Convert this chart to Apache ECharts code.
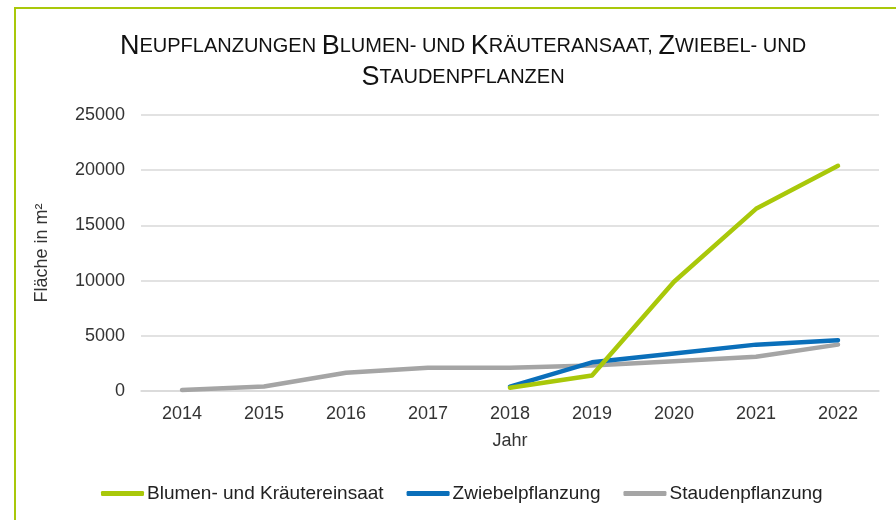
<!DOCTYPE html>
<html>
<head>
<meta charset="utf-8">
<script src="https://cdn.jsdelivr.net/npm/echarts@6/dist/echarts.min.js"></script>
<style>
  html, body { margin: 0; padding: 0; background: #fff; }
  #chart { width: 896px; height: 520px; }
</style>
</head>
<body>
<div id="chart"></div>
<script>
const years = ["2014", "2015", "2016", "2017", "2018", "2019", "2020", "2021", "2022"];
const blumen = [null, null, null, null, 300, 1400, 9900, 16500, 20400];
const zwiebel = [null, null, null, null, 400, 2600, 3400, 4200, 4600];
const stauden = [100, 400, 1650, 2100, 2100, 2300, 2700, 3100, 4200];

const chart = echarts.init(document.getElementById("chart"));

// Titel in Kapitälchen: große Anfangsbuchstaben, Rest kleiner
const titleText =
  "{b|N}{s|EUPFLANZUNGEN }{b|B}{s|LUMEN- UND }{b|K}{s|RÄUTERANSAAT, }{b|Z}{s|WIEBEL- UND}\n" +
  "{b|S}{s|TAUDENPFLANZEN}";

const mkSeries = (name, data, color) => ({
  name,
  type: "line",
  data,
  symbol: "none",
  connectNulls: false,
  lineStyle: { color, width: 4.5, cap: "round", join: "round" },
  itemStyle: { color },
});

chart.setOption({
  animation: false,
  textStyle: { fontFamily: "Liberation Sans, Arial, sans-serif" },
  graphic: [
    {
      type: "rect",
      shape: { x: 15, y: 8, width: 1000, height: 1000 },
      style: { fill: "none", stroke: "#a9c80a", lineWidth: 2 },
      silent: true,
    },
  ],
  title: {
    text: titleText,
    left: 458,
    textAlign: "center",
    top: 26,
    textStyle: {
      fontWeight: "normal",
      rich: {
        b: { fontSize: 27, color: "#111", lineHeight: 31, fontWeight: "normal", fontFamily: "Liberation Sans" },
        s: { fontSize: 20, color: "#111", lineHeight: 31, fontWeight: "normal", fontFamily: "Liberation Sans" },
      },
    },
  },
  grid: { left: 141, right: 17, top: 115, bottom: 129 },
  legend: {
    left: 96,
    top: 479,
    icon: "roundRect",
    itemWidth: 43,
    itemHeight: 5,
    itemGap: 23,
    textStyle: { fontSize: 19, color: "#222", padding: [0, 0, 0, -2] },
    data: ["Blumen- und Kräutereinsaat", "Zwiebelpflanzung", "Staudenpflanzung"],
  },
  xAxis: {
    type: "category",
    data: years,
    boundaryGap: true,
    name: "Jahr",
    nameLocation: "middle",
    nameGap: 41,
    nameTextStyle: { fontSize: 18, color: "#333" },
    axisLine: { lineStyle: { color: "#d9d9d9", width: 1.5 } },
    axisTick: { show: false },
    axisLabel: { fontSize: 18, color: "#333", margin: 14 },
  },
  yAxis: {
    type: "value",
    min: 0,
    max: 25000,
    interval: 5000,
    name: "Fläche in m²",
    nameLocation: "middle",
    nameGap: 90,
    nameTextStyle: { fontSize: 18, color: "#333" },
    axisLine: { show: false },
    axisTick: { show: false },
    axisLabel: { fontSize: 18, color: "#333", margin: 16, formatter: (v) => String(v) },
    splitLine: { lineStyle: { color: "#d9d9d9", width: 1.5 } },
  },
  series: [
    mkSeries("Staudenpflanzung", stauden, "#a5a5a5"),
    mkSeries("Zwiebelpflanzung", zwiebel, "#0a6fba"),
    mkSeries("Blumen- und Kräutereinsaat", blumen, "#a9c80a"),
  ],
});
</script>
</body>
</html>
